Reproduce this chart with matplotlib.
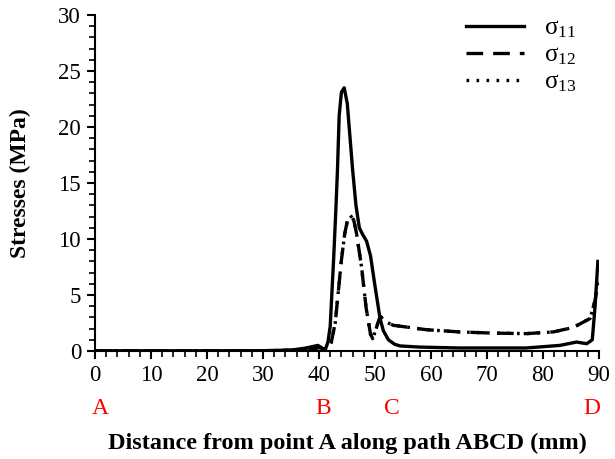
import matplotlib
matplotlib.use("Agg")
import matplotlib.pyplot as plt
from matplotlib.ticker import MultipleLocator

plt.rcParams['font.family'] = ['Liberation Serif', 'DejaVu Serif']
plt.rcParams['mathtext.fontset'] = 'custom'
plt.rcParams['mathtext.rm'] = 'Liberation Serif'
plt.rcParams['mathtext.default'] = 'regular'

# sigma_11 (solid)
x11 = [0, 10, 20, 30, 35, 37.5, 39.8, 41.1, 41.6, 42.0, 42.6, 43.0, 43.3, 43.6, 44.0, 44.5,
       45.05, 45.5, 46.0, 46.6, 47.2, 47.8, 48.5, 49.2, 50.0, 50.9, 51.5, 52.4, 53.5, 54.5,
       58, 65, 77, 83, 86, 87.8, 88.8, 89.3, 89.8]
s11 = [0.02, 0.02, 0.02, 0.03, 0.08, 0.25, 0.5, 0.1, 0.8, 2.2, 8.1, 12.5, 16.2, 21.0, 23.1, 23.5,
       22.1, 19.3, 16.2, 13.0, 11.0, 10.4, 9.8, 8.5, 5.8, 2.9, 1.8, 1.0, 0.6, 0.45,
       0.35, 0.27, 0.27, 0.5, 0.8, 0.65, 1.0, 4.0, 8.0]

# sigma_12 / sigma_13 (drawn on top of each other, look like dash-dot)
x12 = [0, 10, 20, 30, 38, 40, 41.4, 42.2, 42.9, 44.0, 44.6, 45.1, 45.6, 46.2, 46.7, 47.6,
       48.4, 49.2, 49.6, 50.2, 50.9, 52.0, 53.2, 59.2, 65.2, 71, 77, 81.8, 85.4, 88.4,
       89.3, 89.8]
s12 = [0.02, 0.02, 0.02, 0.02, 0.1, 0.3, 0.1, 0.8, 2.5, 8.1, 10.5, 11.7, 12.1, 11.7, 10.5, 7.5,
       3.9, 1.5, 1.1, 2.0, 3.1, 2.6, 2.3, 1.9, 1.7, 1.6, 1.55, 1.7, 2.1, 2.9,
       4.5, 6.2]
x13 = x12
s13 = s12

letters = ['A', 'B', 'C', 'D']
letter_x = [0.9, 40.7, 53.0, 88.8]

fig = plt.figure(figsize=(6.15, 4.59), dpi=100)
ax = fig.add_axes([95 / 615, 1 - 351 / 459, 504 / 615, 336 / 459])

ax.plot(x11, s11, color='black', lw=2.4, label='σ$_{11}$')
ax.plot(x12, s12, color='black', lw=2.4, ls=(0, (5, 3)), label='σ$_{12}$')
ax.plot(x13, s13, color='black', lw=2.4, ls=(0, (0.8, 2.2)), label='σ$_{13}$')

ax.set_xlim(0, 90)
ax.set_ylim(0, 30)
ax.xaxis.set_major_locator(MultipleLocator(10))
ax.xaxis.set_minor_locator(MultipleLocator(2))
ax.yaxis.set_major_locator(MultipleLocator(5))
ax.yaxis.set_minor_locator(MultipleLocator(1))
ax.spines['top'].set_visible(False)
ax.spines['right'].set_visible(False)
for s in ['left', 'bottom']:
    ax.spines[s].set_linewidth(1.5)
ax.tick_params(which='major', direction='out', length=6, width=1.5, labelsize=16.5, pad=4)
ax.tick_params(which='minor', direction='out', length=4, width=1.2)

ax.set_ylabel('Stresses (MPa)', fontsize=17, fontweight='bold', labelpad=20)
ax.set_xlabel('Distance from point A along path ABCD (mm)', fontsize=17.5,
              fontweight='bold', labelpad=34)

for lab, xv in zip(letters, letter_x):
    ax.text(xv, -0.17, lab, color='red', fontsize=17, ha='center', va='center',
            transform=ax.get_xaxis_transform())

ax.legend(loc='upper right', bbox_to_anchor=(1.0, 1.06), frameon=False, fontsize=18,
          handlelength=2.3, handletextpad=0.8, labelspacing=0.15)

fig.savefig('out.png', dpi=100)
